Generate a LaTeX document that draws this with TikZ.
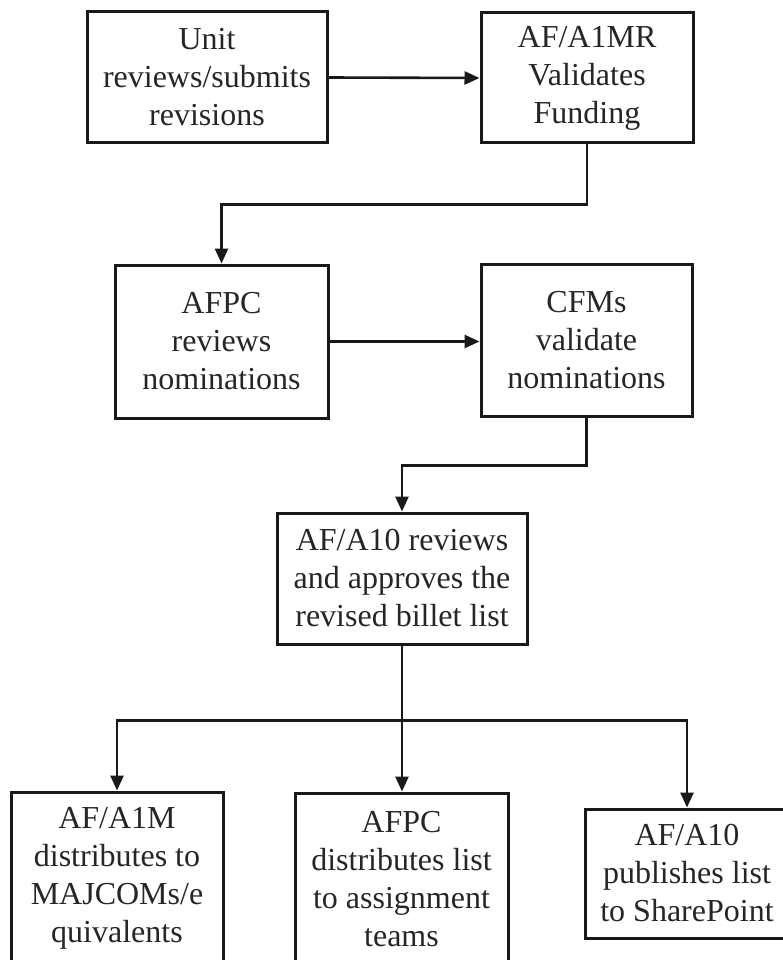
\documentclass[tikz,border=0pt]{standalone}
\usepackage{fontspec}
\setmainfont{Liberation Serif}
\usetikzlibrary{arrows.meta}
\begin{document}
\begin{tikzpicture}[x=1pt,y=-1pt,
  box/.style={draw=black!90, line width=3pt, fill=white, align=center, inner sep=0pt,
    font=\fontsize{32}{38}\selectfont, text=black!85},
  arr/.style={draw=black!90, line width=2.6pt, -{Triangle[length=15pt,width=13pt]}},
  conn/.style={draw=black!90, line width=2.6pt}]
\useasboundingbox[fill=white] (0,0) rectangle (783,960);
\node[box, minimum width=240pt, minimum height=131pt] (b1) at (207,77.5) {Unit\\reviews/submits\\revisions};
\node[box, minimum width=212pt, minimum height=130pt] (b2) at (587,78) {AF/A1MR\\Validates\\Funding};
\node[box, minimum width=213pt, minimum height=153pt] (b3) at (221.5,341.5) {AFPC\\reviews\\nominations};
\node[box, minimum width=211pt, minimum height=152pt] (b4) at (586.5,340) {CFMs\\validate\\nominations};
\node[box, minimum width=250pt, minimum height=131pt] (b5) at (402,578.5) {AF/A10 reviews\\and approves the\\revised billet list};
\node[box, minimum width=212pt, minimum height=172pt] (b6) at (117,878) {AF/A1M\\distributes to\\MAJCOMs/e\\quivalents};
\node[box, minimum width=213pt, minimum height=172pt] (b7) at (401.5,879) {AFPC\\distributes list\\to assignment\\teams};
\node[box, minimum width=204pt, minimum height=129pt] (b8) at (687,873.5) {AF/A10\\publishes list\\to SharePoint};

\draw[arr] (b1.east) -- (b2.west);
\draw[arr] (b2.south) -- ++(0,60) -| (b3.north);
\draw[arr] (b3.east) -- (b4.west |- b3.east);
\draw[arr] (b4.south) -- ++(0,48) -| (b5.north);
\draw[conn] (b5.south) -- ++(0,75) coordinate (bus);
\draw[arr] (bus) -| (b6.north);
\draw[arr] (bus) -- (bus |- b7.north);
\draw[arr] (bus) -| (b8.north);
\end{tikzpicture}
\end{document}
